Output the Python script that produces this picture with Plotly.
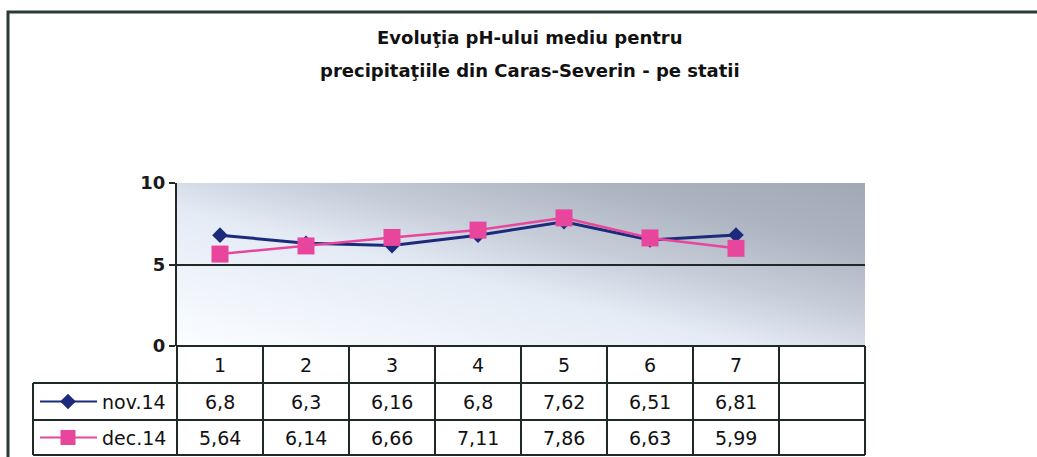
import base64
import plotly.graph_objects as go

# ---------------- data ----------------
categories = [1, 2, 3, 4, 5, 6, 7, 8]
cat_labels = ["1", "2", "3", "4", "5", "6", "7", ""]
series_names = ["nov.14", "dec.14"]
nov14 = [6.8, 6.3, 6.16, 6.8, 7.62, 6.51, 6.81]
dec14 = [5.64, 6.14, 6.66, 7.11, 7.86, 6.63, 5.99]
y_ticks = [0, 5, 10]
title_lines = ["Evoluţia pH-ului mediu pentru",
               "precipitaţiile din Caras-Severin - pe statii"]

# ---------------- layout constants ----------------
W, H = 1037, 457
PX0, PX1 = 177, 865          # plot area (px)
PY_TOP, PY_BOT = 183, 346    # plot area (px)
ROW_Y = [346, 383, 420, 455] # table row lines
LEG_X0 = 33
NAVY = "#1c2a7c"
PINK = "#e8469c"
DARK = "#1f2a26"
FONT = "DejaVu Sans, Arial, sans-serif"


def px(x):
    return x / W


def py(y):
    return 1 - y / H


fig = go.Figure()

fig.add_trace(go.Scatter(
    x=categories[:len(nov14)], y=nov14, mode="lines+markers", name=series_names[0],
    line=dict(color=NAVY, width=3),
    marker=dict(symbol="diamond", size=12, color=NAVY),
    xaxis="x", yaxis="y", showlegend=False))
fig.add_trace(go.Scatter(
    x=categories[:len(dec14)], y=dec14, mode="lines+markers", name=series_names[1],
    line=dict(color=PINK, width=2.5),
    marker=dict(symbol="square", size=17, color=PINK),
    xaxis="x", yaxis="y", showlegend=False))

# legend keys inside the data table (pixel overlay axis)
key_rows = [(ROW_Y[1] + ROW_Y[2]) / 2, (ROW_Y[2] + ROW_Y[3]) / 2]
key_styles = [dict(color=NAVY, width=2, sym="diamond", size=12),
              dict(color=PINK, width=2, sym="square", size=15)]
for yk, st in zip(key_rows, key_styles):
    fig.add_trace(go.Scatter(
        x=[40, 97], y=[yk, yk], mode="lines",
        line=dict(color=st["color"], width=st["width"]),
        xaxis="x2", yaxis="y2", showlegend=False, hoverinfo="skip"))
    fig.add_trace(go.Scatter(
        x=[68], y=[yk], mode="markers",
        marker=dict(symbol=st["sym"], size=st["size"], color=st["color"]),
        xaxis="x2", yaxis="y2", showlegend=False, hoverinfo="skip"))

shapes = []
annotations = []

shapes.append(dict(type="rect", xref="paper", yref="paper",
                   x0=px(8), x1=px(1060), y0=py(12), y1=py(480),
                   line=dict(color="#2a3a35", width=3), layer="above"))

for i, t in enumerate(title_lines):
    annotations.append(dict(text=t, xref="paper", yref="paper",
                            x=px(530), y=py(38 + 32 * i), showarrow=False,
                            xanchor="center", yanchor="middle",
                            font=dict(family=FONT, size=18, color="#111111",
                                      weight="bold")))

ncat = len(categories)
cw = (PX1 - PX0) / ncat
lw = 2
shapes.append(dict(type="line", xref="paper", yref="paper",
                   x0=px(PX0), x1=px(PX1), y0=py(ROW_Y[0]), y1=py(ROW_Y[0]),
                   line=dict(color=DARK, width=lw)))
for yr in ROW_Y[1:]:
    shapes.append(dict(type="line", xref="paper", yref="paper",
                       x0=px(LEG_X0), x1=px(PX1), y0=py(yr), y1=py(yr),
                       line=dict(color=DARK, width=lw)))
for k in range(ncat + 1):
    xv = PX0 + k * cw
    shapes.append(dict(type="line", xref="paper", yref="paper",
                       x0=px(xv), x1=px(xv), y0=py(ROW_Y[0]), y1=py(ROW_Y[3]),
                       line=dict(color=DARK, width=lw)))
shapes.append(dict(type="line", xref="paper", yref="paper",
                   x0=px(LEG_X0), x1=px(LEG_X0), y0=py(ROW_Y[1]), y1=py(ROW_Y[3]),
                   line=dict(color=DARK, width=lw)))


def fmt(v):
    return (f"{v:.2f}".rstrip("0").rstrip(".")).replace(".", ",")


cell_font = dict(family=FONT, size=19, color="#111111")
row_mid = [(ROW_Y[i] + ROW_Y[i + 1]) / 2 for i in range(3)]
for k, lab in enumerate(cat_labels):
    cx = PX0 + (k + 0.5) * cw
    if lab:
        annotations.append(dict(text=lab, xref="paper", yref="paper",
                                x=px(cx), y=py(row_mid[0]), showarrow=False,
                                xanchor="center", yanchor="middle",
                                font=cell_font))
for r, vals in enumerate([nov14, dec14]):
    for k, v in enumerate(vals):
        cx = PX0 + (k + 0.5) * cw
        annotations.append(dict(text=fmt(v), xref="paper", yref="paper",
                                x=px(cx), y=py(row_mid[r + 1]), showarrow=False,
                                xanchor="center", yanchor="middle",
                                font=cell_font))
for r, nm in enumerate(series_names):
    annotations.append(dict(text=nm, xref="paper", yref="paper",
                            x=px(100), y=py(row_mid[r + 1]), showarrow=False,
                            xanchor="left", yanchor="middle", font=cell_font))

gw, gh = PX1 - PX0, PY_BOT - PY_TOP
svg = (f"<svg xmlns='http://www.w3.org/2000/svg' width='{gw}' height='{gh}' "
       f"viewBox='0 0 {gw} {gh}' preserveAspectRatio='none'>"
       "<defs><linearGradient id='g' x1='0' y1='1' x2='1' y2='0'>"
       "<stop offset='0' stop-color='#fbfdff'/>"
       "<stop offset='0.42' stop-color='#e4ebf5'/>"
       "<stop offset='0.6' stop-color='#c6cdd9'/>"
       "<stop offset='0.8' stop-color='#adb4c1'/>"
       "<stop offset='1' stop-color='#a2a9b6'/>"
       "</linearGradient></defs>"
       f"<rect width='{gw}' height='{gh}' fill='url(#g)'/></svg>")
src = "data:image/svg+xml;base64," + base64.b64encode(svg.encode()).decode()

fig.update_layout(
    width=W, height=H, autosize=False,
    margin=dict(l=0, r=0, t=0, b=0, pad=0, autoexpand=False),
    paper_bgcolor="white", plot_bgcolor="rgba(0,0,0,0)",
    images=[dict(source=src, xref="paper", yref="paper",
                 x=px(PX0), y=py(PY_TOP), sizex=px(PX1) - px(PX0),
                 sizey=py(PY_TOP) - py(PY_BOT), sizing="stretch",
                 xanchor="left", yanchor="top", layer="below")],
    xaxis=dict(domain=[px(PX0), px(PX1)], range=[0.5, ncat + 0.5],
               showticklabels=False, showgrid=False, zeroline=False,
               showline=False, ticks="", automargin=False),
    yaxis=dict(domain=[py(PY_BOT), py(PY_TOP)], range=[0, 10],
               tickvals=y_ticks, ticktext=[str(t) for t in y_ticks],
               showgrid=True, gridcolor=DARK, gridwidth=2,
               zeroline=False, showline=True, linecolor=DARK, linewidth=2,
               ticks="outside", ticklen=6, tickwidth=2, tickcolor=DARK,
               automargin=False,
               tickfont=dict(family=FONT, size=18, color="#1a1a1a",
                             weight="bold")),
    xaxis2=dict(domain=[0, 1], range=[0, W], visible=False, fixedrange=True,
                automargin=False),
    yaxis2=dict(domain=[0, 1], range=[H, 0], visible=False, fixedrange=True,
                anchor="x2", automargin=False),
    shapes=shapes, annotations=annotations,
    showlegend=False,
)

fig.write_html(
    "out.html",
    config={"displayModeBar": False},
    post_script=(
        "document.documentElement.style.margin='0';"
        "document.documentElement.style.padding='0';"
        "document.documentElement.style.overflow='hidden';"
        "document.body.style.margin='0';"
        "document.body.style.padding='0';"
        "document.body.style.overflow='hidden';"
        "var gd=document.getElementById('{plot_id}');"
        "gd.style.position='fixed';gd.style.left='0px';gd.style.top='0px';"
    ),
)
